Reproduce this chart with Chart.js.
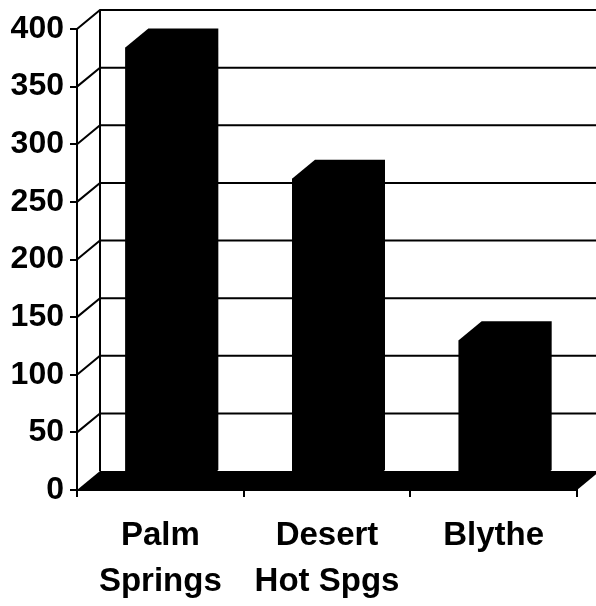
<!DOCTYPE html>
<html>
<head>
<meta charset="utf-8">
<script src="https://cdn.jsdelivr.net/npm/chart.js@4"></script>
<style>
  body { margin: 0; background: #fff; }
  #wrap { width: 596px; height: 606px; }
</style>
</head>
<body>
<div id="wrap"><canvas id="chart"></canvas></div>
<script>
const cidades = [['Palm', 'Springs'], ['Desert', 'Hot Spgs'], 'Blythe'];
const valores = [384, 270, 130];
const yMin = 0;
const yMax = 400;
const yStep = 50;

// deslocamento da profundidade (efeito 3D)
const DX = 23;
const DY = -19;

const profundidade = {
  id: 'profundidade',
  beforeDatasetsDraw(chart) {
    const { ctx, scales: { x, y } } = chart;
    ctx.save();
    ctx.strokeStyle = '#000';
    ctx.fillStyle = '#000';
    ctx.lineWidth = 2;
    // linhas da parede de fundo
    y.ticks.forEach(t => {
      if (t.value === 0) return;
      const py = y.getPixelForValue(t.value);
      ctx.beginPath();
      ctx.moveTo(x.left, py);
      ctx.lineTo(x.left + DX, py + DY);
      ctx.lineTo(chart.width, py + DY);
      ctx.stroke();
    });
    ctx.beginPath();
    ctx.moveTo(x.left + DX, y.bottom + DY);
    ctx.lineTo(x.left + DX, y.top + DY);
    ctx.stroke();
    // piso
    ctx.beginPath();
    ctx.moveTo(x.left, y.bottom);
    ctx.lineTo(x.right, y.bottom);
    ctx.lineTo(x.right + DX, y.bottom + DY);
    ctx.lineTo(x.left + DX, y.bottom + DY);
    ctx.closePath();
    ctx.fill();
    // lados das barras
    chart.getDatasetMeta(0).data.forEach(b => {
      const l = b.x - b.width / 2, r = b.x + b.width / 2;
      ctx.beginPath();
      ctx.moveTo(l, b.base);
      ctx.lineTo(l, b.y);
      ctx.lineTo(l + DX, b.y + DY);
      ctx.lineTo(r + DX, b.y + DY);
      ctx.lineTo(r + DX, b.base + DY);
      ctx.lineTo(r, b.base);
      ctx.closePath();
      ctx.fill();
    });
    ctx.restore();
  }
};

new Chart(document.getElementById('chart'), {
  type: 'bar',
  data: {
    labels: cidades,
    datasets: [{
      data: valores,
      backgroundColor: '#000',
      borderWidth: 0,
      barPercentage: 0.42,
      categoryPercentage: 1
    }]
  },
  options: {
    responsive: true,
    maintainAspectRatio: false,
    animation: false,
    layout: { padding: { top: 29, right: 19 } },
    scales: {
      x: {
        grid: { display: true, drawOnChartArea: false, tickLength: 7, color: '#000', lineWidth: 2 },
        border: { display: true, color: '#000', width: 2 },
        ticks: {
          color: '#000',
          padding: 16,
          maxRotation: 0,
          font: { family: '"Liberation Sans", Arial, sans-serif', size: 33, weight: 'bold', lineHeight: 1.4 }
        },
        afterFit(s) { s.height = 116; }
      },
      y: {
        min: yMin,
        max: yMax,
        grid: { display: true, drawOnChartArea: false, tickLength: 7, color: '#000', lineWidth: 2 },
        border: { display: true, color: '#000', width: 2 },
        ticks: {
          stepSize: yStep,
          color: '#000',
          padding: 6,
          font: { family: '"Liberation Sans", Arial, sans-serif', size: 32, weight: 'bold' }
        },
        afterFit(s) { s.width = 77; }
      }
    },
    plugins: {
      legend: { display: false },
      tooltip: { enabled: false }
    }
  },
  plugins: [profundidade]
});
</script>
</body>
</html>
